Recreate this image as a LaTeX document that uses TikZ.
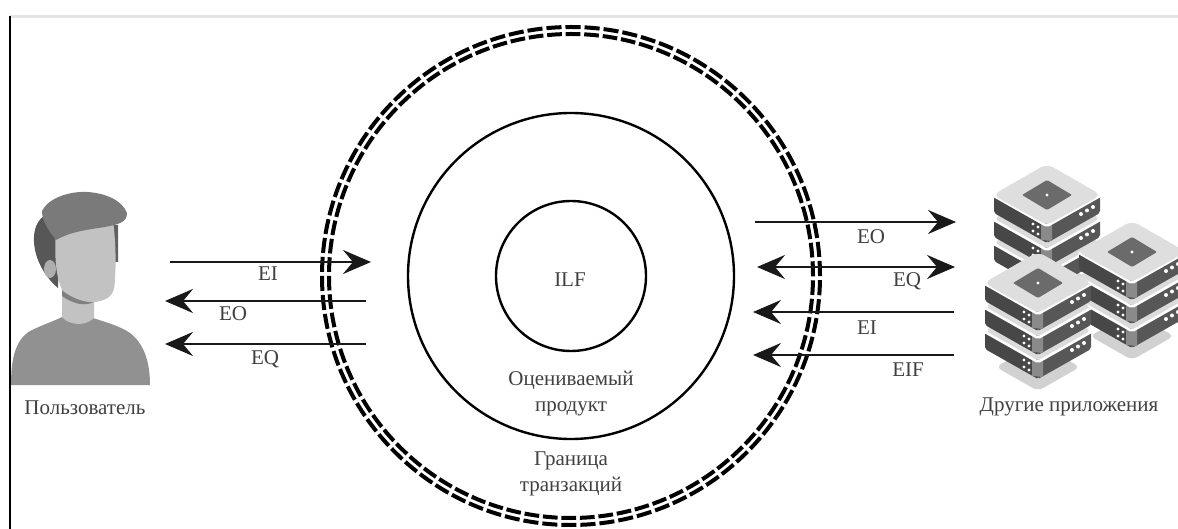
\documentclass[tikz,border=0pt]{standalone}
\usepackage{fontspec}
\setmainfont{Liberation Serif}
\usepackage{tikz}
\usetikzlibrary{arrows.meta}

\newcommand{\serverlayer}[2]{
    \fill[black!14, rounded corners=7pt] (#1-54,#2) -- (#1,#2-31) -- (#1+54,#2) -- (#1,#2+31) -- cycle;
    \fill[black!72, rounded corners=2pt] (#1-53,#2) -- (#1,#2+30) -- (#1,#2+48) -- (#1-53,#2+18) -- cycle;
    \fill[black!66, rounded corners=2pt] (#1+53,#2) -- (#1,#2+30) -- (#1,#2+48) -- (#1+53,#2+18) -- cycle;
    \fill[black!46] (#1-6,#2+27) -- (#1+5,#2+30) -- (#1+5,#2+46) -- (#1-6,#2+45) -- cycle;
    \fill[white] (#1-14,#2+29) circle (1.6) (#1-9,#2+32) circle (1.6) (#1-14,#2+36) circle (1.6) (#1-9,#2+39) circle (1.6);
    \fill[white] (#1+34,#2+19) circle (2) (#1+40,#2+15.5) circle (2) (#1+46,#2+12) circle (2);
    \draw[white, line width=2.6pt, rounded corners=2pt] (#1-53,#2+1) -- (#1,#2+31) -- (#1+53,#2+1);
}
\newcommand{\servertop}[2]{
    \fill[black!13, rounded corners=7pt] (#1-54,#2) -- (#1,#2-31) -- (#1+54,#2) -- (#1,#2+30) -- cycle;
    \fill[black!58, rounded corners=1pt] (#1-25,#2) -- (#1,#2-15) -- (#1+25,#2) -- (#1,#2+15) -- cycle;
    \fill[white] (#1,#2) circle (1.6);
}
\newcommand{\serverstack}[2]{
    \fill[black!18, rounded corners=6pt] (#1-42,#2+84) -- (#1,#2+60) -- (#1+42,#2+84) -- (#1,#2+108) -- cycle;
    \serverlayer{#1}{#2+48}
    \serverlayer{#1}{#2+24}
    \serverlayer{#1}{#2}
    \servertop{#1}{#2}
}

\begin{document}
\begin{tikzpicture}[x=1pt,y=-1pt]
        \tikzstyle{every node} = [font=\fontsize{21}{26}\selectfont, text=black!75, align=center, inner sep=0pt, outer sep=0pt]
        \tikzstyle{ringline} = [circle, draw=black, line width=2.4pt, fill=none]
        \tikzstyle{boundary} = [circle, draw=black, line width=4pt]
        \tikzstyle{flow} = [line width=2.5pt, black!90, -{Stealth[length=28pt,width=24pt,inset=10pt]}]
        \tikzstyle{flowboth} = [line width=2.5pt, black!90, {Stealth[length=28pt,width=24pt,inset=10pt]}-{Stealth[length=28pt,width=24pt,inset=10pt]}]

        \clip (0,0) rectangle (1178,529);
        \fill[white] (0,0) rectangle (1178,529);
        \draw[black!10, line width=3pt] (10,17) -- (1178,17);
        \draw[black, line width=2pt] (10,16) -- (10,529);

        % user
        \fill[black!43] (11,385) .. controls (11,360) and (15,340) .. (30,331) .. controls (42,325) and (52,322) .. (62,317) .. controls (68,323) and (84,326) .. (93,318) .. controls (105,322) and (120,326) .. (130,333) .. controls (143,343) and (150,360) .. (150,385) -- cycle;
        \fill[black!24] (62,294) -- (62,317) .. controls (68,325) and (85,327) .. (94,318) -- (94,294) -- cycle;
        \fill[black!50] (62,296) .. controls (75,305) and (85,306) .. (94,302) -- (94,296) -- (62,288) -- cycle;
        \fill[black!66] (44,216) .. controls (35,222) and (32,235) .. (35,250) .. controls (38,265) and (48,280) .. (58,288) -- (60,235) -- cycle;
        \fill[black!62] (110,225) -- (118,225) -- (118,262) -- (114,262) -- cycle;
        \fill[black!24] (56,232) -- (113,220) .. controls (116,245) and (116,265) .. (115,277) .. controls (115,292) and (112,298) .. (100,301) .. controls (88,305) and (72,298) .. (63,291) .. controls (56,280) and (54,255) .. (56,232) -- cycle;
        \fill[black!32] (50,269) circle [x radius=6, y radius=9];
        \fill[black!52] (42,211) .. controls (48,198) and (70,191) .. (87,192) .. controls (105,193) and (122,200) .. (127,213) .. controls (127,222) and (120,224) .. (105,227) .. controls (85,230) and (70,232) .. (56,240) .. controls (50,232) and (42,222) .. (42,211) -- cycle;

        % servers
        \serverstack{1047}{195}
        \serverstack{1132}{252}
        \serverstack{1038}{283}

        \node[boundary, minimum size=498pt, dash pattern=on 15.1pt off 3.98pt] (outerring) at (571,276) {};
        \node[boundary, minimum size=484pt, dash pattern=on 14.7pt off 3.84pt] (innerring) at (571,276) {};
        \node[ringline, minimum size=326pt] (product) at (571,276) {};
        \node[ringline, minimum size=150pt] (ilf) at (571,276) {};

        \node (ilflabel) at (570,280) {ILF};
        \node (productlabel) at (571,394) {Оцениваемый\\продукт};
        \node (borderlabel) at (571,474) {Граница\\транзакций};
        \node (user) at (85,408) {Пользователь};
        \node (apps) at (1069,407) {Другие приложения};

        \coordinate (eia) at (170,262);
        \coordinate (eib) at (371,262);
        \coordinate (eoa) at (366,301);
        \coordinate (eob) at (165,301);
        \coordinate (eqa) at (366,344);
        \coordinate (eqb) at (165,344);
        \coordinate (oeoa) at (755,222);
        \coordinate (oeob) at (956,222);
        \coordinate (oeqa) at (757,267);
        \coordinate (oeqb) at (955,267);
        \coordinate (oeia) at (954,312);
        \coordinate (oeib) at (753,312);
        \coordinate (eifa) at (954,355);
        \coordinate (eifb) at (753,355);

        \foreach \from/\to in {eia/eib, eoa/eob, eqa/eqb, oeoa/oeob, oeia/oeib, eifa/eifb}
            \draw[flow] (\from) -- (\to);
        \draw[flowboth] (oeqa) -- (oeqb);

        \node (eilabel) at (268,274) {EI};
        \node (eolabel) at (233,314) {EO};
        \node (eqlabel) at (265,359) {EQ};
        \node (oeolabel) at (871,237) {EO};
        \node (oeqlabel) at (907,281) {EQ};
        \node (oeilabel) at (867,328) {EI};
        \node (eiflabel) at (908,370) {EIF};
    \end{tikzpicture}
\end{document}
